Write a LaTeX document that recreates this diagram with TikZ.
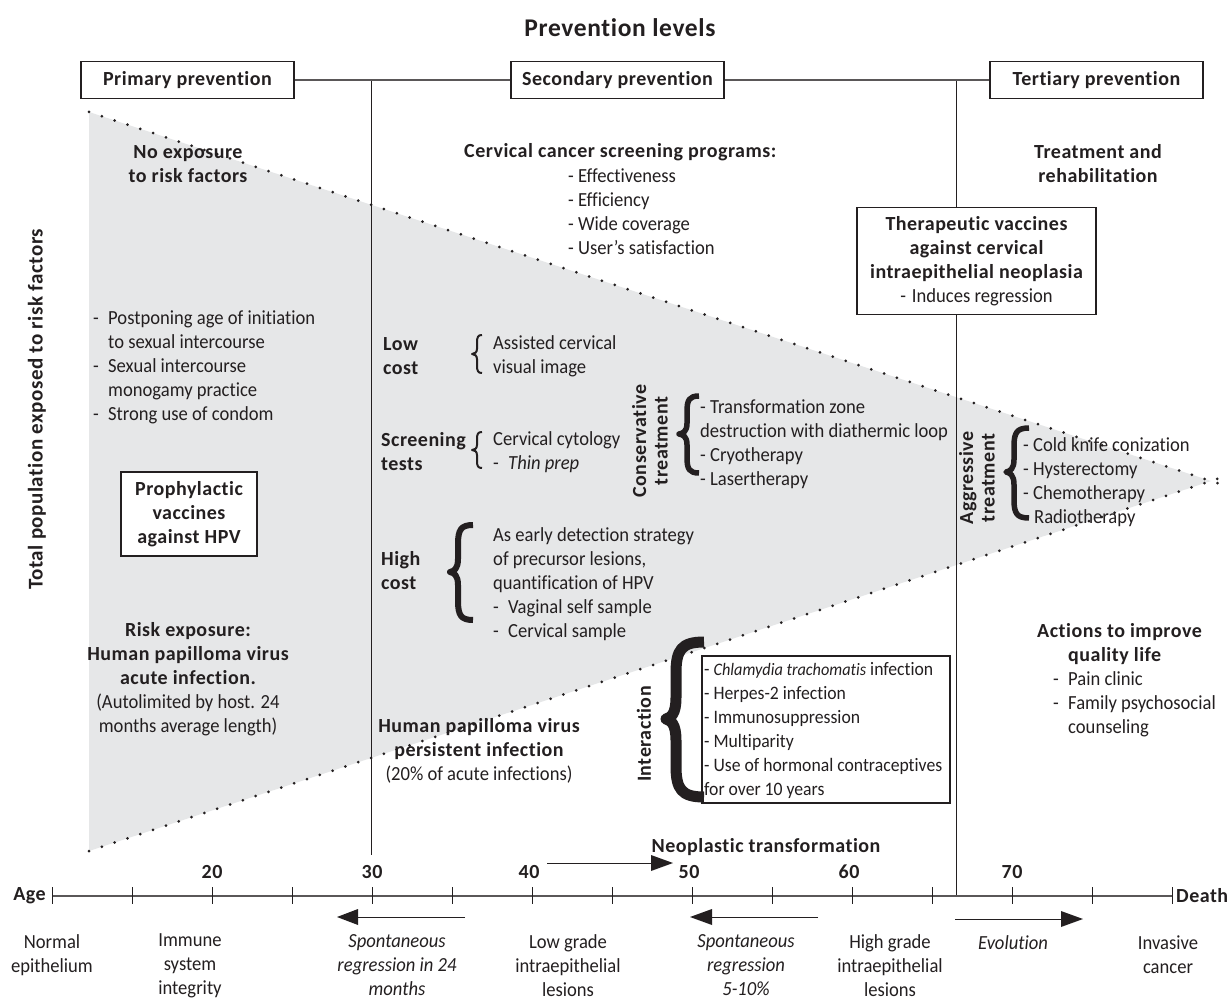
\documentclass[tikz,border=0pt]{standalone}
\usepackage{fontspec}
\setmainfont{Carlito}[FakeStretch=0.93,Ligatures=NoCommon,BoldFeatures={FakeStretch=1,LetterSpace=2.5}]
\definecolor{ink}{HTML}{231F20}
\definecolor{tri}{HTML}{E6E7E8}
\newcommand{\brc}[7]{% xright ytop ybot xmid xtip ytip width
 \draw[ink,line width=#7,line cap=butt,line join=round]
 (#1,#2) .. controls ({#4+(#1-#4)*0.2},#2) and (#4,{#2+(#3-#2)*0.05}) .. (#4,{#2+(#3-#2)*0.2})
 -- (#4,{#6-(#3-#2)*0.14}) .. controls (#4,{#6-(#3-#2)*0.03}) and ({(#4+#5)/2},{#6-(#3-#2)*0.01}) .. (#5,#6)
 .. controls ({(#4+#5)/2},{#6+(#3-#2)*0.01}) and (#4,{#6+(#3-#2)*0.03}) .. (#4,{#6+(#3-#2)*0.14})
 -- (#4,{#3-(#3-#2)*0.2}) .. controls (#4,{#3-(#3-#2)*0.05}) and ({#4+(#1-#4)*0.2},#3) .. (#1,#3);}
\newcommand{\dsh}{\makebox[15pt][l]{-}}
\tikzset{
 x=1pt,y=-1pt,
 txt/.style={font=\fontsize{20}{24}\selectfont,text=ink,inner sep=0pt,align=left,anchor=west},
 ctxt/.style={txt,align=center,anchor=center},
 bold/.style={font=\fontsize{20}{24}\selectfont\bfseries},
 ital/.style={font=\fontsize{20}{24}\selectfont\itshape},
 rot/.style={font=\fontsize{20}{21.5}\selectfont\bfseries,rotate=90},
 lvl/.style={draw=ink,line width=1.1pt,fill=white,font=\fontsize{20}{24}\selectfont\bfseries,text=ink,inner sep=0pt,align=center},
 rule/.style={draw=ink,line width=1pt},
 greyline/.style={draw=ink!75,line width=1.6pt},
 tick/.style={draw=ink,line width=.9pt},
 arr/.style={draw=ink,line width=1pt},
 head/.style={fill=ink,draw=none},
 dots/.style={ink,line width=3pt,line cap=round,dash pattern=on 0pt off 13.5pt},
}
\begin{document}
\begin{tikzpicture}
\useasboundingbox (0,0) rectangle (1228,1000);
\fill[white] (0,0) rectangle (1228,1000);
% triangle
\coordinate (tl) at (89,112);
\coordinate (bl) at (89,851);
\coordinate (apex) at (1211,481);
\fill[tri] (tl) -- (apex) -- (bl) -- cycle;
% header
\node[ctxt,font=\fontsize{25.5}{28}\selectfont\bfseries] (title) at (620,28) {Prevention levels};
\coordinate (v1t) at (371,80); \coordinate (v1b) at (371,855);
\coordinate (v2t) at (956,80); \coordinate (v2b) at (956,896);
\draw[rule] (v1t) -- (v1b);
\draw[rule] (v2t) -- (v2b);
\node[lvl,minimum width=213,minimum height=37] (prim) at (187.5,80) {Primary prevention};
\node[lvl,minimum width=213,minimum height=37] (sec) at (617.5,80) {Secondary prevention};
\node[lvl,minimum width=213,minimum height=37] (ter) at (1096.5,80) {Tertiary prevention};
\draw[greyline] (prim) -- (sec);
\draw[greyline] (sec) -- (ter);
% y label
\node[txt,font=\fontsize{21}{24}\selectfont\bfseries,rotate=90] (ylab) at (37,590) {Total population exposed to risk factors};
% top texts
\node[ctxt,bold] (noexp) at (188,164) {No exposure\\to risk factors};
\node[txt,bold] (ccs) at (464,152) {Cervical cancer screening programs:};
\node[txt] (ccsl) at (568,212) {- Effectiveness\\- Efficiency\\- Wide coverage\\- User's satisfaction};
\node[ctxt,bold] (treat) at (1098,164) {Treatment and\\rehabilitation};
\node[lvl,minimum width=239,minimum height=107,font=\fontsize{20}{24}\selectfont] (ther) at (976.5,261) {\bfseries Therapeutic vaccines\\\bfseries against cervical\\\bfseries intraepithelial neoplasia\\-\hspace{6pt}Induces regression};
% left
\node[txt] (left) at (93,367) {\dsh Postponing age of initiation\\\hspace{15pt}to sexual intercourse\\\dsh Sexual intercourse\\\hspace{15pt}monogamy practice\\\dsh Strong use of condom};
\node[lvl,minimum width=136,minimum height=84] (proph) at (189,514) {Prophylactic\\vaccines\\against HPV};
\node[ctxt] (risk) at (188,679) {\bfseries Risk exposure:\\\bfseries Human papilloma virus\\\bfseries acute infection.\\(Autolimited by host. 24\\months average length)};
% low cost
\node[txt,bold] (low) at (383,356) {Low\\cost};
\node[txt] (lowt) at (493,356) {Assisted cervical\\visual image};
\brc{482}{335}{373}{477}{472}{354}{2pt}
\node[txt,bold] (scr) at (381,452) {Screening\\tests};
\node[txt] (scrt) at (493,452) {Cervical cytology\\\dsh\itshape Thin prep};
\brc{482}{432}{468}{477}{472}{450}{2pt}
\node[txt,bold] (high) at (381,571) {High\\cost};
\node[txt] (hight) at (493,584) {As early detection strategy\\of precursor lesions,\\quantification of HPV\\\dsh Vaginal self sample\\\dsh Cervical sample};
\brc{473}{525}{620}{458}{450}{572}{6pt}
% conservative
\node[ctxt,rot] (cons) at (650,441) {Conservative\\treatment};
\brc{699}{396}{473}{687}{679}{434}{5.5pt}
\node[txt] (const) at (700,444) {- Transformation zone\\destruction with diathermic loop\\- Cryotherapy\\- Lasertherapy};
% aggressive
\node[ctxt,rot] (agg) at (977,478) {Aggressive\\treatment};
\brc{1029}{428}{518}{1014}{1006}{472}{5.5pt}
\node[txt] (aggt) at (1023,482) {- Cold knife conization\\- Hysterectomy\\- Chemotherapy\\\hspace{11pt}Radiotherapy};
% interaction
\node[draw=ink,line width=1.1pt,fill=white,minimum width=248,minimum height=147,inner sep=0pt] (ibox) at (826,729.5) {};
\brc{704}{642}{797}{676}{666}{719}{11pt}
\node[txt,font=\fontsize{19}{24}\selectfont] (intt) at (704,730) {- {\fontsize{17.5}{24}\selectfont\itshape Chlamydia trachomatis} infection\\- Herpes-2 infection\\- Immunosuppression\\- Multiparity\\- Use of hormonal contraceptives\\for over 10 years};
\node[ctxt,bold,rotate=90] (inter) at (644,734) {Interaction};
\node[ctxt] (hpv) at (479,751) {\bfseries Human papilloma virus\\\bfseries persistent infection\\(20\% of acute infections)};
% actions
\node[txt,bold] (act1) at (1037,632) {Actions to improve};
\node[txt,bold] (act2) at (1068,656) {quality life};
\node[txt] (act3) at (1053,704) {\dsh Pain clinic\\\dsh Family psychosocial\\\hspace{15pt}counseling};
% axis
\coordinate (a0) at (52,896); \coordinate (a1) at (1172,896);
\draw[greyline] (a0) -- (a1);
\foreach \i in {0,...,14} \draw[tick] ({52+80*\i},887) -- ({52+80*\i},904);
\node[txt,bold,anchor=east] (age) at (46,896) {Age};
\node[txt,bold] (death) at (1176,896) {Death};
\node[ctxt,bold] (n20) at (212,872) {20};
\node[ctxt,bold] (n30) at (372,872) {30};
\node[ctxt,bold] (n40) at (529,872) {40};
\node[ctxt,bold] (n50) at (689,872) {50};
\node[ctxt,bold] (n60) at (849,872) {60};
\node[ctxt,bold] (n70) at (1012,872) {70};
\node[ctxt,bold] (neo) at (766,847) {Neoplastic transformation};
% arrows
\coordinate (na) at (547,863); \coordinate (nb) at (652,863);
\draw[arr] (na) -- (nb); \fill[head] (651,855) -- (673,863) -- (651,871) -- cycle;
\coordinate (sa) at (465,917); \coordinate (sb) at (358,917);
\draw[arr] (sa) -- (sb); \fill[head] (358,909) -- (337,917) -- (358,925) -- cycle;
\coordinate (ta) at (818,917); \coordinate (tb) at (712,917);
\draw[arr] (ta) -- (tb); \fill[head] (712,909) -- (690,917) -- (712,925) -- cycle;
\coordinate (ea) at (955,919); \coordinate (eb) at (1061,919);
\draw[arr] (ea) -- (eb); \fill[head] (1061,911) -- (1083,919) -- (1061,927) -- cycle;
% bottom labels
\node[ctxt] (b1) at (52,955) {Normal\\epithelium};
\node[ctxt] (b2) at (190,965.5) {Immune\\system\\integrity};
\node[ctxt,ital] (b3) at (397,965.5) {Spontaneous\\regression in 24\\months};
\node[ctxt] (b4) at (568,965.5) {Low grade\\intraepithelial\\lesions};
\node[ctxt,ital] (b5) at (746,965.5) {Spontaneous\\regression\\5-10\%};
\node[ctxt] (b6) at (890,965.5) {High grade\\intraepithelial\\lesions};
\node[ctxt,ital] (b7) at (1013,943) {Evolution};
\node[ctxt] (b8) at (1168,955) {Invasive\\cancer};
% dotted edges, over the text
\coordinate (tr) at (1226,486);
\coordinate (br) at (1226,476);
\draw[dots] (tl) -- (tr);
\draw[dots] (bl) -- (br);
\end{tikzpicture}
\end{document}
